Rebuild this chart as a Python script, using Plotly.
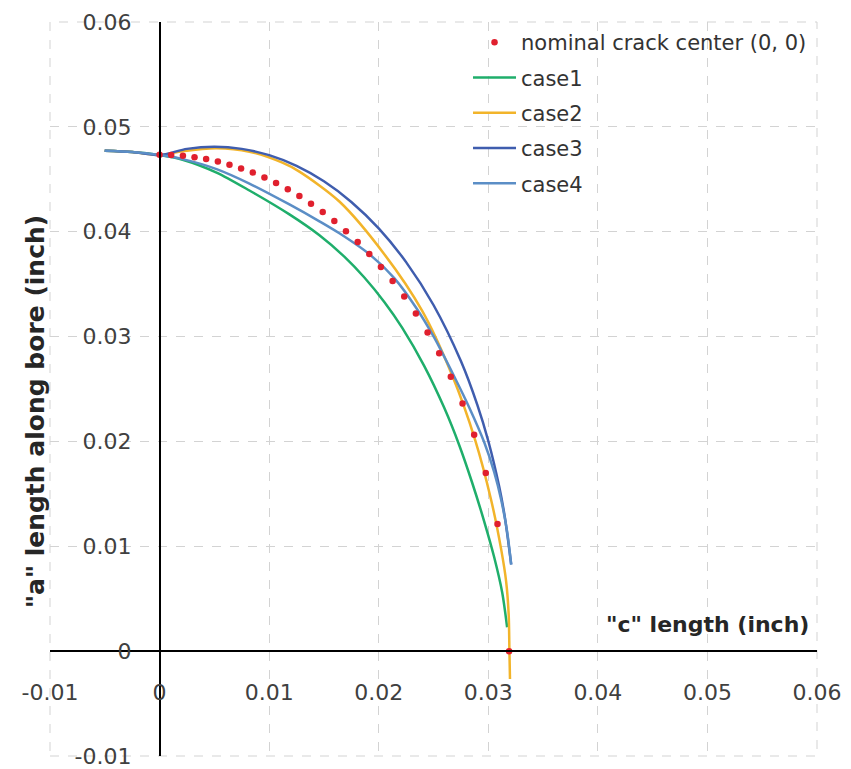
import plotly.graph_objects as go

# ---- axis ticks ----
x_tick_vals = [-0.01, 0.0, 0.01, 0.02, 0.03, 0.04, 0.05, 0.06]
x_tick_text = ["-0.01", "0", "0.01", "0.02", "0.03", "0.04", "0.05", "0.06"]
y_tick_vals = [-0.01, 0.0, 0.01, 0.02, 0.03, 0.04, 0.05, 0.06]
y_tick_text = ["-0.01", "0", "0.01", "0.02", "0.03", "0.04", "0.05", "0.06"]

# ---- nominal crack center (0, 0) : dots ----
nominal_x = [0.0, 0.00106, 0.00213, 0.00319, 0.00425, 0.00532, 0.00638, 0.00744,
             0.00851, 0.00957, 0.01063, 0.0117, 0.01276, 0.01382, 0.01489, 0.01595,
             0.01701, 0.01808, 0.01914, 0.0202, 0.02127, 0.02233, 0.02339, 0.02446,
             0.02552, 0.02658, 0.02765, 0.02871, 0.02977, 0.03084, 0.0319]
nominal_y = [0.04735, 0.04732, 0.04724, 0.04711, 0.04693, 0.04669, 0.04639, 0.04604,
             0.04564, 0.04517, 0.04464, 0.04405, 0.0434, 0.04267, 0.04188, 0.04101,
             0.04005, 0.03901, 0.03788, 0.03664, 0.03529, 0.03381, 0.03219, 0.0304,
             0.02841, 0.02617, 0.02362, 0.02064, 0.017, 0.01212, 0.0]

# ---- case curves ----
case1_x = [-0.00501, -0.0025, 0.0, 0.0021, 0.0052, 0.0082, 0.01185, 0.01459, 0.01686,
           0.01869, 0.02051, 0.02215, 0.02416, 0.02598, 0.02735, 0.02853, 0.02963,
           0.03054, 0.03127, 0.03172]
case1_y = [0.04772, 0.0476, 0.04731, 0.04687, 0.04564, 0.04393, 0.04165, 0.03966, 0.03762,
           0.03563, 0.0333, 0.03083, 0.02718, 0.0232, 0.01964, 0.01606, 0.01236,
           0.00895, 0.0056, 0.00228]

case2_x = [-0.00501, -0.0025, 0.0, 0.0021, 0.0052, 0.0082, 0.01121, 0.01276, 0.01641,
           0.02051, 0.02397, 0.02671, 0.02881, 0.03026, 0.03118, 0.03163, 0.03186,
           0.03193, 0.03198]
case2_y = [0.04772, 0.0476, 0.04731, 0.04768, 0.04796, 0.04763, 0.04658, 0.04573, 0.04288,
           0.03786, 0.03245, 0.02628, 0.02011, 0.01442, 0.00968, 0.00664, 0.00351,
           0.0, -0.00266]

case3_x = [-0.00501, -0.0025, 0.0, 0.0025, 0.005, 0.0075, 0.01, 0.0125, 0.015, 0.0175,
           0.02, 0.0225, 0.025, 0.0275, 0.029, 0.03, 0.031, 0.0315, 0.03209]
case3_y = [0.04772, 0.0476, 0.04731, 0.0479, 0.0481, 0.0479, 0.0473, 0.04628, 0.04481,
           0.04284, 0.04032, 0.0371, 0.03301, 0.02766, 0.02348, 0.02004, 0.01567,
           0.01285, 0.00827]

case4_x = [-0.00501, -0.0025, 0.0, 0.0021, 0.0052, 0.0082, 0.01185, 0.01459, 0.01641,
           0.01914, 0.02142, 0.02343, 0.02507, 0.02689, 0.02826, 0.02963, 0.03054,
           0.03118, 0.03172, 0.03209]
case4_y = [0.04772, 0.0476, 0.04731, 0.04692, 0.04597, 0.04459, 0.0426, 0.04099, 0.03985,
           0.03786, 0.03558, 0.03273, 0.02989, 0.02619, 0.02324, 0.01992, 0.01708,
           0.01442, 0.01139, 0.00825]

series_names = ["nominal crack center (0, 0)", "case1", "case2", "case3", "case4"]
colors = {"nominal": "#e0202e", "case1": "#1fae6b", "case2": "#f2b42a",
          "case3": "#3f5dae", "case4": "#5b8ec6"}

FONT = "DejaVu Sans"
GRID = "#d3d3d3"

fig = go.Figure()
cases = [("case1", case1_x, case1_y), ("case2", case2_x, case2_y),
         ("case3", case3_x, case3_y), ("case4", case4_x, case4_y)]
for rank, (name, xs, ys) in enumerate(cases, start=2):
    fig.add_trace(go.Scatter(
        x=xs, y=ys, mode="lines", name=name,
        line=dict(color=colors[name], width=2.5, shape="spline", smoothing=0.8),
        legendrank=rank, legendgroup=name))

fig.add_trace(go.Scatter(
    x=nominal_x, y=nominal_y, mode="markers", name=series_names[0],
    marker=dict(color=colors["nominal"], size=6.5),
    legendrank=1, legendgroup="nominal"))

axis_common = dict(
    showgrid=True, gridcolor=GRID, gridwidth=1, griddash="dash",
    zeroline=False, showline=True, linecolor="black", linewidth=1.5,
    ticks="", automargin=False, ticklabeloverflow="allow",
    tickfont=dict(family=FONT, size=22, color="#404040"),
)

fig.update_layout(
    width=851, height=769,
    margin=dict(l=42, r=42, t=14, b=21),
    paper_bgcolor="white", plot_bgcolor="white",
    xaxis=dict(range=[-0.01, 0.06], tickvals=x_tick_vals, ticktext=x_tick_text,
               anchor="free", position=1 / 7, ticklabelstandoff=22, **axis_common),
    yaxis=dict(range=[-0.01, 0.06], tickvals=y_tick_vals, ticktext=y_tick_text,
               anchor="free", position=1 / 7, ticklabelstandoff=23, **axis_common),
    legend=dict(x=0.545, y=1.0, xanchor="left", yanchor="top",
                font=dict(family=FONT, size=21, color="#333333"),
                bgcolor="rgba(255,255,255,0)", itemwidth=43,
                tracegroupgap=5, traceorder="grouped"),
    showlegend=True,
    shapes=[dict(type="rect", xref="paper", yref="paper", x0=0, y0=0, x1=1, y1=1,
                 line=dict(color=GRID, width=1, dash="dash"), layer="below")],
    annotations=[
        dict(text='"c" length (inch)', xref="paper", yref="paper",
             x=0.857, y=0.179, xanchor="center", yanchor="middle", showarrow=False,
             font=dict(family=FONT, size=22, color="#262626", weight="bold")),
        dict(text='"a" length along bore (inch)', xref="paper", yref="paper",
             x=-0.0196, y=0.47, xanchor="center", yanchor="middle",
             textangle=-90, showarrow=False,
             font=dict(family=FONT, size=25, color="#262626", weight="bold")),
    ],
)

fig.write_html("out.html")
